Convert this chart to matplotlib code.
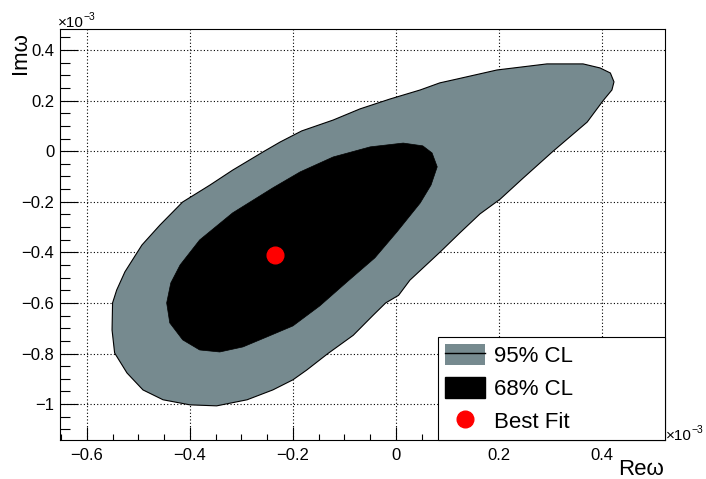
import matplotlib
matplotlib.use('Agg')
import matplotlib.pyplot as plt
from matplotlib.patches import Patch
from matplotlib.lines import Line2D
from matplotlib.ticker import MultipleLocator, FuncFormatter

plt.rcParams['font.family'] = ['Liberation Sans', 'DejaVu Sans']

# contours, units of 1e-3
outer_re = [0.423, 0.416, 0.396, 0.363, 0.293, 0.196, 0.118, 0.085, 0.047, -0.012,
            -0.070, -0.122, -0.183, -0.225, -0.258, -0.317, -0.361, -0.414, -0.458,
            -0.493, -0.526, -0.542, -0.550, -0.551, -0.546, -0.522, -0.491, -0.452,
            -0.400, -0.348, -0.289, -0.239, -0.200, -0.173, -0.132, -0.083, -0.045,
            -0.020, 0.005, 0.027, 0.085, 0.124, 0.163, 0.202, 0.247, 0.305, 0.371, 0.402, 0.419]
outer_im = [0.274, 0.309, 0.329, 0.345, 0.345, 0.321, 0.285, 0.270, 0.242, 0.206,
            0.167, 0.123, 0.080, 0.036, -0.003, -0.075, -0.134, -0.201, -0.292,
            -0.371, -0.477, -0.549, -0.600, -0.707, -0.798, -0.877, -0.944, -0.983,
            -1.003, -1.007, -0.983, -0.944, -0.904, -0.865, -0.800, -0.728, -0.650,
            -0.600, -0.570, -0.510, -0.400, -0.323, -0.248, -0.190, -0.106, 0.000, 0.115, 0.200, 0.242]

inner_re = [0.014, 0.052, 0.070, 0.080, 0.068, 0.047, 0.002, -0.041, -0.095, -0.148,
            -0.200, -0.250, -0.297, -0.342, -0.381, -0.414, -0.439, -0.445, -0.437,
            -0.419, -0.381, -0.317, -0.239, -0.186, -0.122, -0.050]
inner_im = [0.032, 0.021, -0.007, -0.062, -0.134, -0.205, -0.319, -0.422, -0.517, -0.612,
            -0.691, -0.734, -0.774, -0.794, -0.786, -0.746, -0.679, -0.600, -0.521,
            -0.450, -0.351, -0.244, -0.145, -0.082, -0.023, 0.017]

best_re = [-0.235]
best_im = [-0.41]

gray = '#768a8f'
W, H = 706, 479

fig = plt.figure(figsize=(7.06, 4.79), dpi=100)
ax = fig.add_axes([60/W, 39/H, 605/W, 411/H])

ax.fill(outer_re, outer_im, facecolor=gray, edgecolor='black', lw=0.8, zorder=2)
ax.fill(inner_re, inner_im, facecolor='black', edgecolor='black', lw=0.5, zorder=3)
ax.plot(best_re, best_im, 'o', color='red', ms=12, mec='red', zorder=4)

ax.set_xlim(-0.652, 0.522)
ax.set_ylim(-1.142, 0.483)

def fmt(v, pos):
    s = '%g' % round(v, 3)
    return s.replace('-', '\u2212')

ax.xaxis.set_major_locator(MultipleLocator(0.2))
ax.xaxis.set_minor_locator(MultipleLocator(0.05))
ax.yaxis.set_major_locator(MultipleLocator(0.2))
ax.yaxis.set_minor_locator(MultipleLocator(0.05))
ax.xaxis.set_major_formatter(FuncFormatter(fmt))
ax.yaxis.set_major_formatter(FuncFormatter(fmt))

ax.tick_params(axis='both', which='both', direction='in', top=False, right=False,
               labelsize=12, width=0.8, color='black')
ax.tick_params(axis='x', which='major', length=9.5, pad=6)
ax.tick_params(axis='x', which='minor', length=4)
ax.tick_params(axis='y', which='major', length=13, pad=4)
ax.tick_params(axis='y', which='minor', length=7)

ax.grid(True, which='major', color='black', ls=(0, (1, 2)), lw=0.8)
ax.set_axisbelow(True)
for sp in ax.spines.values():
    sp.set_linewidth(0.8)

fig.text(20/W, 1 - 32/H, 'Im\u03c9', rotation=90, ha='center', va='top', fontsize=16)
fig.text(664/W, 4/H, 'Re\u03c9', ha='right', va='baseline', fontsize=16)

# x10^-3 exponent labels (y axis at top-left, x axis at bottom-right)
for x0, y0 in [(58, 27), (666, 440)]:
    fig.text(x0/W, 1 - y0/H, '\u00d710', ha='left', va='baseline', fontsize=11)
    fig.text((x0 + 26)/W, 1 - (y0 - 7)/H, '\u22123', ha='left', va='baseline', fontsize=7.5)

handles = [(Patch(facecolor=gray, edgecolor='none'), Line2D([], [], color='black', lw=1)),
           Patch(facecolor='black', edgecolor='black'),
           Line2D([], [], ls='none', marker='o', color='red', ms=12)]
labels = ['95% CL', '68% CL', 'Best Fit']
leg = ax.legend(handles, labels, loc='lower left', bbox_to_anchor=(1 - 227/605, 0, 227/605, 0.2),
                mode='expand', fontsize=16, frameon=True, fancybox=False, framealpha=1,
                edgecolor='black', borderpad=0.3, handlelength=1.8, handleheight=1.08,
                handletextpad=0.4, labelspacing=0.45, borderaxespad=0)
leg.get_frame().set_linewidth(0.8)
leg.set_zorder(10)

fig.savefig('out.png', dpi=100)
